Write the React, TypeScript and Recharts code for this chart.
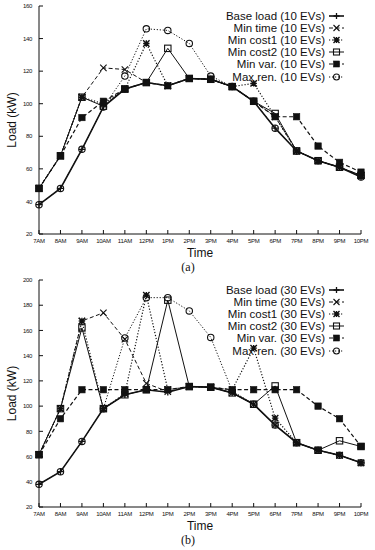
import { LineChart, Line, XAxis, YAxis } from "recharts";

const hours = ["7AM", "8AM", "9AM", "10AM", "11AM", "12PM", "1PM", "2PM", "3PM", "4PM", "5PM", "6PM", "7PM", "8PM", "9PM", "10PM"];

const baseLoad = [38, 48, 72, 98, 109, 113, 111, 115.5, 115, 110.5, 101.5, 85, 71, 65, 61, 55];

// (a) 10 EVs
const minTimeA = [48, 68, 104, 122, 121, 113, 111, 115.5, 115, 110.5, 101.5, 92, 71, 65, 61, 56];
const minCost1A = [48, 68, 104, 100, 109, 137, 111, 115.5, 115, 110.5, 112.5, 92, 71, 65, 61, 56];
const minCost2A = [48, 68, 104, 98.5, 109, 113, 134, 115.5, 115, 110.5, 101.5, 94, 71, 65, 61, 56];
const minVarA = [48, 68, 91.5, 101.5, 109, 113, 111, 115.5, 115, 110.5, 101.5, 92, 92, 74, 64, 58];
const maxRenA = [38, 48, 72, 98, 117, 146, 145, 137, 117, 110.5, 101.5, 85, 71, 65, 61, 55];

// (b) 30 EVs
const minTimeB = [61.5, 98, 167.5, 174, 153, 118, 111.5, 115.5, 115, 110.5, 101.5, 85, 71, 65, 61, 55];
const minCost1B = [61.5, 98, 167.5, 98, 110, 188, 113, 115.5, 115, 113, 146, 90.5, 71, 65, 61, 55];
const minCost2B = [61.5, 98, 162, 98, 109, 113, 184, 115.5, 115, 110.5, 101.5, 116, 71, 65, 72.5, 68];
const minVarB = [61.5, 90, 113, 113, 113, 113, 113, 115.5, 115, 113, 113, 113, 113, 100, 90, 68];
const maxRenB = [38, 48, 72, 98, 154, 186, 186, 175.5, 154.5, 112, 101.5, 85, 71, 65, 61, 55];

const ticksA = [20, 40, 60, 80, 100, 120, 140, 160];
const ticksB = [20, 40, 60, 80, 100, 120, 140, 160, 180, 200];

const FONT = '"Liberation Sans", Arial, sans-serif';
const INK = "#111";

const series = [
  { key: "base", name: "Base load", shape: "plus", dash: undefined, w: 1.6 },
  { key: "minTime", name: "Min time", shape: "cross", dash: "4 2.5", w: 1 },
  { key: "minCost1", name: "Min cost1", shape: "star", dash: "1.2 1.8", w: 1.2 },
  { key: "minCost2", name: "Min cost2", shape: "square", dash: undefined, w: 1 },
  { key: "minVar", name: "Min var.", shape: "filled", dash: "4 2.5", w: 1.2 },
  { key: "maxRen", name: "Max ren.", shape: "circle", dash: "1.2 1.8", w: 1 },
];

const makeRows = (t: number[], c1: number[], c2: number[], v: number[], r: number[]) =>
  hours.map((hour, i) => ({
    hour,
    base: baseLoad[i],
    minTime: t[i],
    minCost1: c1[i],
    minCost2: c2[i],
    minVar: v[i],
    maxRen: r[i],
  }));

const rowsA = makeRows(minTimeA, minCost1A, minCost2A, minVarA, maxRenA);
const rowsB = makeRows(minTimeB, minCost1B, minCost2B, minVarB, maxRenB);

function Marker({ shape, cx, cy, s = 3.2 }: { shape: string; cx: number; cy: number; s?: number }) {
  if (cx == null || cy == null) return null;
  const st = { stroke: INK, fill: "none", strokeWidth: 1.1 };
  if (shape === "plus")
    return <path d={`M${cx - s} ${cy}H${cx + s}M${cx} ${cy - s}V${cy + s}`} {...st} strokeWidth={1.3} />;
  if (shape === "cross")
    return <path d={`M${cx - s} ${cy - s}L${cx + s} ${cy + s}M${cx - s} ${cy + s}L${cx + s} ${cy - s}`} {...st} />;
  if (shape === "star")
    return (
      <path
        d={`M${cx - s} ${cy - s}L${cx + s} ${cy + s}M${cx - s} ${cy + s}L${cx + s} ${cy - s}M${cx - s} ${cy}H${cx + s}M${cx} ${cy - s}V${cy + s}`}
        {...st}
        strokeWidth={1.4}
      />
    );
  if (shape === "square")
    return <rect x={cx - s} y={cy - s} width={2 * s} height={2 * s} {...st} />;
  if (shape === "filled")
    return <rect x={cx - s} y={cy - s} width={2 * s} height={2 * s} fill={INK} stroke={INK} strokeWidth={0.6} />;
  return <circle cx={cx} cy={cy} r={s} {...st} />;
}

const XTick = ({ x, y, payload }: any) => (
  <text x={x} y={y + 9} textAnchor="middle" fontSize={6} fontFamily={FONT} fill={INK} letterSpacing={-0.3}>
    {payload.value}
  </text>
);

const YTick = ({ x, y, payload }: any) => (
  <text x={x - 7} y={y + 2.2} textAnchor="end" fontSize={6} fontFamily={FONT} fill={INK} letterSpacing={-0.3}>
    {payload.value}
  </text>
);

function Panel({ rows, evs, ticks, caption, plotTop, plotBottom }: any) {
  const W = 375;
  const H = 275;
  const midY = (plotTop + plotBottom) / 2;
  return (
    <div style={{ position: "relative", width: W, height: H }}>
      <LineChart width={W} height={H} data={rows} margin={{ top: plotTop, right: 14, bottom: 0, left: 0 }}>
        <XAxis
          dataKey="hour"
          interval={0}
          height={H - plotBottom}
          tickSize={-4}
          tickMargin={4}
          tick={<XTick />}
          axisLine={{ stroke: INK }}
          tickLine={{ stroke: INK }}
          label={{
            content: () => (
              <g fontFamily={FONT} fill={INK}>
                <text x={200} y={plotBottom + 23} textAnchor="middle" fontSize={12}>
                  Time
                </text>
                <text
                  x={188}
                  y={plotBottom + 37}
                  textAnchor="middle"
                  fontSize={12}
                  fontFamily='"Liberation Serif", serif'
                >
                  {caption}
                </text>
              </g>
            ),
          }}
        />
        <XAxis
          xAxisId="top"
          orientation="top"
          dataKey="hour"
          interval={0}
          height={0}
          tickSize={-4}
          tick={false}
          axisLine={{ stroke: INK }}
          tickLine={{ stroke: INK }}
        />
        <YAxis
          width={39}
          domain={[ticks[0], ticks[ticks.length - 1]]}
          ticks={ticks}
          interval={0}
          tickSize={-4}
          tickMargin={4}
          tick={<YTick />}
          axisLine={{ stroke: INK }}
          tickLine={{ stroke: INK }}
          label={{
            content: () => (
              <text
                x={13}
                y={midY}
                transform={`rotate(-90 13 ${midY})`}
                textAnchor="middle"
                dominantBaseline="middle"
                fontSize={12}
                fontFamily={FONT}
                fill={INK}
              >
                Load (kW)
              </text>
            ),
          }}
        />
        <YAxis
          yAxisId="right"
          orientation="right"
          width={0}
          domain={[ticks[0], ticks[ticks.length - 1]]}
          ticks={ticks}
          interval={0}
          tickSize={-4}
          tick={false}
          axisLine={{ stroke: INK }}
          tickLine={{ stroke: INK }}
        />
        {series.map((s) => (
          <Line
            key={s.key}
            dataKey={s.key}
            type="linear"
            stroke={INK}
            strokeWidth={s.w}
            strokeDasharray={s.dash}
            isAnimationActive={false}
            dot={(p: any) => <Marker key={`${s.key}-${p.index}`} shape={s.shape} cx={p.cx} cy={p.cy} />}
            activeDot={false}
          />
        ))}
      </LineChart>
      <div
        style={{
          position: "absolute",
          left: 0,
          width: 344,
          top: plotTop + 3.5,
          display: "flex",
          flexDirection: "column",
          alignItems: "flex-end",
          fontFamily: FONT,
          fontSize: 11.5,
          lineHeight: "12px",
          color: INK,
        }}
      >
        {series.map((s) => (
          <div key={s.key} style={{ display: "flex", alignItems: "center", height: 12.2, whiteSpace: "nowrap" }}>
            <span style={{ lineHeight: "12px" }}>{`${s.name} (${evs})`}</span>
            <svg width={15} height={10} style={{ marginLeft: 4 }}>
              <line x1={0} y1={5} x2={15} y2={5} stroke={INK} strokeWidth={s.w} strokeDasharray={s.dash} />
              <Marker shape={s.shape} cx={7.5} cy={5} s={3} />
            </svg>
          </div>
        ))}
      </div>
    </div>
  );
}

export default function App() {
  return (
    <div style={{ position: "absolute", left: 0, top: 0, width: 375, height: 550, background: "#fff" }}>
      <Panel rows={rowsA} evs="10 EVs" ticks={ticksA} caption="(a)" plotTop={6} plotBottom={234} />
      <Panel rows={rowsB} evs="30 EVs" ticks={ticksB} caption="(b)" plotTop={5} plotBottom={232} />
    </div>
  );
}
